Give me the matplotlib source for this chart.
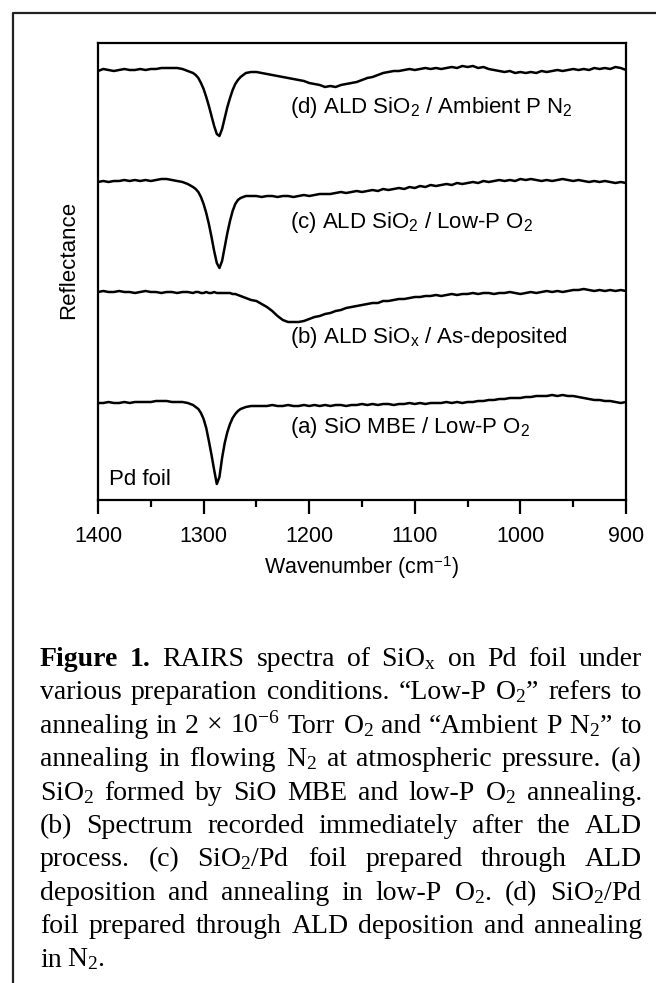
import numpy as np
import matplotlib
matplotlib.use('Agg')
import matplotlib.pyplot as plt
from matplotlib.lines import Line2D
from matplotlib.ticker import MultipleLocator

plt.rcParams['font.family'] = 'Liberation Sans'
plt.rcParams['mathtext.fontset'] = 'custom'
plt.rcParams['mathtext.rm'] = 'Liberation Serif'
plt.rcParams['mathtext.sf'] = 'Liberation Sans'
plt.rcParams['mathtext.it'] = 'Liberation Serif:italic'
plt.rcParams['mathtext.bf'] = 'Liberation Serif:bold'

# wavenumber grid (cm-1), finer around the sharp Si-O band
wn = np.concatenate([np.arange(1400, 1312, -5.0),
                     np.arange(1310, 1261, -2.5),
                     np.arange(1260, 899, -5.0)])

# spectra, arbitrary units, each relative to its own baseline
spec_a = [0, 0, 1, 0, 0, 1, 0, 1, 1, 1, 1, 2, 2, 2, 1, 1, 1, 0,
          -2, -4, -6, -10, -16, -25, -38, -52, -67, -81,
          -74, -55, -40, -29, -21, -15, -11, -8, -6, -5,
          -4, -3, -3, -3, -3, -2, -3, -3, -2, -3, -3, -2, -3, -2,
          -3, -2, -3, -2, -2, -3, -2, -2, -1, -2, -1, -2, -1, -1,
          -2, -1, -1, 0, -1, 0, -1, 0, 0, 0, 1, 0, 1, 0,
          1, 1, 2, 2, 3, 3, 4, 4, 5, 5, 5, 6, 6, 7,
          7, 7, 8, 7, 8, 7, 7, 6, 5, 4, 3, 3, 2, 2, 1, 0, 1]
spec_b = [0, 1, 0, 0, 1, 0, 0, -1, 0, 1, 0, 0, -1, 0, 0, -1, 0, 0,
          -1, 0, 0, -1, -1, 0, -1, -1, 0, -1,
          -1, -1, -1, -1, -1, -2, -2, -3, -4, -5,
          -6, -8, -9, -12, -15, -19, -24, -28, -30, -30, -30, -29, -27, -25,
          -24, -22, -21, -19, -18, -16, -15, -14, -13, -12, -11, -11, -9, -9,
          -8, -7, -7, -6, -5, -5, -4, -4, -3, -4, -3, -2, -3, -2,
          -2, -1, -2, -1, -1, -2, -1, -1, 0, -1, -2, -1, 0, -1,
          0, 1, 0, 1, 0, 1, 2, 2, 3, 2, 1, 2, 1, 2, 1, 2, 1]
spec_c = [0, 1, 0, 1, 1, 2, 1, 2, 1, 2, 1, 2, 3, 3, 2, 1, 0, -2,
          -5, -7, -10, -15, -22, -31, -42, -55, -69, -81,
          -86, -79, -65, -51, -39, -29, -22, -18, -16, -15,
          -14, -14, -14, -15, -14, -14, -15, -14, -14, -15, -14, -13, -14, -13,
          -12, -12, -12, -11, -10, -11, -10, -9, -10, -9, -8, -9, -7, -8,
          -7, -6, -7, -5, -6, -4, -5, -3, -4, -3, -2, -3, -1, -2,
          -1, 0, -1, 1, 0, 1, 2, 1, 2, 1, 3, 2, 3, 2,
          1, 2, 1, 2, 3, 2, 1, 2, 1, 0, 1, 0, 1, 0, -1, 0, -1]
spec_d = [-1, 1, 0, -1, 0, 1, 0, 0, 1, 0, 1, 1, 2, 2, 2, 2, 1, -1,
          -3, -5, -8, -13, -19, -27, -36, -46, -56, -64,
          -66, -59, -48, -37, -28, -20, -14, -10, -7, -5,
          -3, -2, -2, -3, -4, -5, -6, -7, -8, -9, -10, -11, -13, -14,
          -15, -17, -16, -17, -15, -14, -13, -12, -10, -8, -7, -5, -3, -2,
          -1, -1, 0, 1, 0, 1, 2, 1, 2, 1, 2, 3, 2, 4,
          3, 4, 2, 3, 1, 0, -1, -2, -1, -3, -2, -3, -2, -3,
          -1, -2, -1, 0, -1, 0, 1, 0, 1, 0, 2, 1, 2, 1, 3, 2, 0]

spectra = [spec_a, spec_b, spec_c, spec_d]
offsets = [97, 208, 318, 430]
labels = ['(a) SiO MBE / Low-P O$_\\mathsf{2}$',
          '(b) ALD SiO$_\\mathsf{x}$ / As-deposited',
          '(c) ALD SiO$_\\mathsf{2}$ / Low-P O$_\\mathsf{2}$',
          '(d) ALD SiO$_\\mathsf{2}$ / Ambient P N$_\\mathsf{2}$']
label_y = [73, 163, 278, 393]

caption = [
    ['Figure', '1.', 'RAIRS', 'spectra', 'of', 'SiO$_\\mathrm{x}$', 'on', 'Pd', 'foil', 'under'],
    ['various', 'preparation', 'conditions.', '\u201cLow-P', 'O$_\\mathrm{2}$\u201d', 'refers', 'to'],
    ['annealing', 'in', '2', '\u00d7', '10$^\\mathrm{-6}$', 'Torr', 'O$_\\mathrm{2}$', 'and',
     '\u201cAmbient', 'P', 'N$_\\mathrm{2}$\u201d', 'to'],
    ['annealing', 'in', 'flowing', 'N$_\\mathrm{2}$', 'at', 'atmospheric', 'pressure.', '(a)'],
    ['SiO$_\\mathrm{2}$', 'formed', 'by', 'SiO', 'MBE', 'and', 'low-P', 'O$_\\mathrm{2}$', 'annealing.'],
    ['(b)', 'Spectrum', 'recorded', 'immediately', 'after', 'the', 'ALD'],
    ['process.', '(c)', 'SiO$_\\mathrm{2}$/Pd', 'foil', 'prepared', 'through', 'ALD'],
    ['deposition', 'and', 'annealing', 'in', 'low-P', 'O$_\\mathrm{2}$.', '(d)', 'SiO$_\\mathrm{2}$/Pd'],
    ['foil', 'prepared', 'through', 'ALD', 'deposition', 'and', 'annealing'],
    ['in', 'N$_\\mathrm{2}$.'],
]
bold_words = ['Figure', '1.']

W, H = 656, 983
fig = plt.figure(figsize=(W / 100, H / 100), dpi=100)

# frame around the figure panel
fig.add_artist(Line2D([13 / W, 13 / W, 1], [0, 1 - 13 / H, 1 - 13 / H],
                      transform=fig.transFigure, color='#222222', lw=1.6))

ax = fig.add_axes([98 / W, 1 - 500 / H, (626 - 98) / W, (500 - 43) / H])
for spec, off in zip(spectra, offsets):
    ax.plot(wn, np.array(spec) + off, color='black', lw=1.8)
for lab, ly in zip(labels, label_y):
    ax.text(1218, ly, lab, fontsize=16, va='center', ha='left')
ax.text(1390, 21, 'Pd foil', fontsize=16, va='center', ha='left')

ax.set_xlim(1400, 900)
ax.set_ylim(0, 457)
ax.set_yticks([])
ax.xaxis.set_major_locator(MultipleLocator(100))
ax.xaxis.set_minor_locator(MultipleLocator(50))
ax.tick_params(axis='x', which='major', direction='out', length=10, width=1.6,
               labelsize=15.5, top=False, pad=9)
ax.tick_params(axis='x', which='minor', direction='out', length=5, width=1.6, top=False)
for s in ax.spines.values():
    s.set_linewidth(1.6)
ax.set_xlabel('Wavenumber (cm$^\\mathsf{-1}$)', fontsize=15.5, labelpad=5)
fig.text(69 / W, 1 - 260 / H, 'Reflectance', fontsize=16, rotation=90,
         ha='center', va='center')

# justified caption, one text per word
fig.canvas.draw()
r = fig.canvas.get_renderer()
left, right = 40, 642
for i, words in enumerate(caption):
    base = 666 + 33.4 * i
    texts = []
    for w in words:
        t = fig.text(0, 1 - base / H, w, fontsize=20, family='Liberation Serif',
                     fontweight='bold' if w in bold_words else 'normal',
                     va='baseline', ha='left')
        texts.append(t)
    widths = [t.get_window_extent(r).width for t in texts]
    if i < len(caption) - 1:
        gap = (right - left - sum(widths)) / (len(words) - 1)
    else:
        gap = 5
    x = left
    for t, wd in zip(texts, widths):
        t.set_x(x / W)
        x += wd + gap

fig.savefig('out.png', dpi=100)
